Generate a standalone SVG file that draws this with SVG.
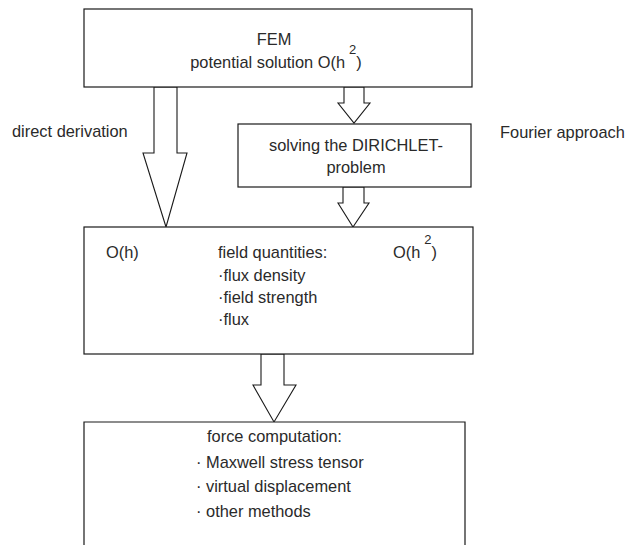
<svg xmlns="http://www.w3.org/2000/svg" width="626" height="545" viewBox="0 0 626 545">
<style>
.box{fill:#fff;stroke:#1a1a1a;stroke-width:1.2}
.arr{fill:#fff;stroke:#1a1a1a;stroke-width:1.1;stroke-linejoin:miter}
text{font-family:"Liberation Sans",Arial,sans-serif;font-size:16.4px;fill:#2a2a2a}
.sup{font-size:13px}
</style>
<rect width="626" height="545" fill="#fff"/>
<g id="connectors">
<polygon class="arr" points="154,87 177,87 177,153 187,153 166,227 143,153 154,153"/>
<polygon class="arr" points="344,87 364,87 364,103 370,103 354,123 338,103 344,103"/>
<polygon class="arr" points="343,187 364,187 364,203 369,203 353,227 338,203 343,203"/>
<polygon class="arr" points="261,354 284,354 284,385 296,385 274,422 253,385 261,385"/>
</g>
<g id="fem">
<rect class="box" x="84" y="9" width="388" height="78"/>
<text x="274" y="45" text-anchor="middle">FEM</text>
<text x="276" y="68" text-anchor="middle">potential solution O(h<tspan class="sup" dx="4" dy="-14">2</tspan><tspan dy="14">)</tspan></text>
</g>
<g id="label-direct">
<text x="12" y="137">direct derivation</text>
</g>
<g id="label-fourier">
<text x="500" y="138">Fourier approach</text>
</g>
<g id="dirichlet">
<rect class="box" x="238" y="124" width="233" height="63"/>
<text x="356" y="151" text-anchor="middle">solving the DIRICHLET-</text>
<text x="356" y="173" text-anchor="middle">problem</text>
</g>
<g id="field">
<rect class="box" x="84" y="227" width="389" height="127"/>
<text x="106" y="258">O(h)</text>
<text x="218" y="258">field quantities:</text>
<text x="393" y="258">O(h<tspan class="sup" dx="4" dy="-14">2</tspan><tspan dy="14">)</tspan></text>
<text x="218" y="281">·flux density</text>
<text x="218" y="303">·field strength</text>
<text x="218" y="325">·flux</text>
</g>
<g id="force">
<path class="box" d="M84,546 V422 H465 V546"/>
<text x="207" y="442">force computation:</text>
<text x="196" y="468">· Maxwell stress tensor</text>
<text x="196" y="492">· virtual displacement</text>
<text x="196" y="517">· other methods</text>
</g>
</svg>
